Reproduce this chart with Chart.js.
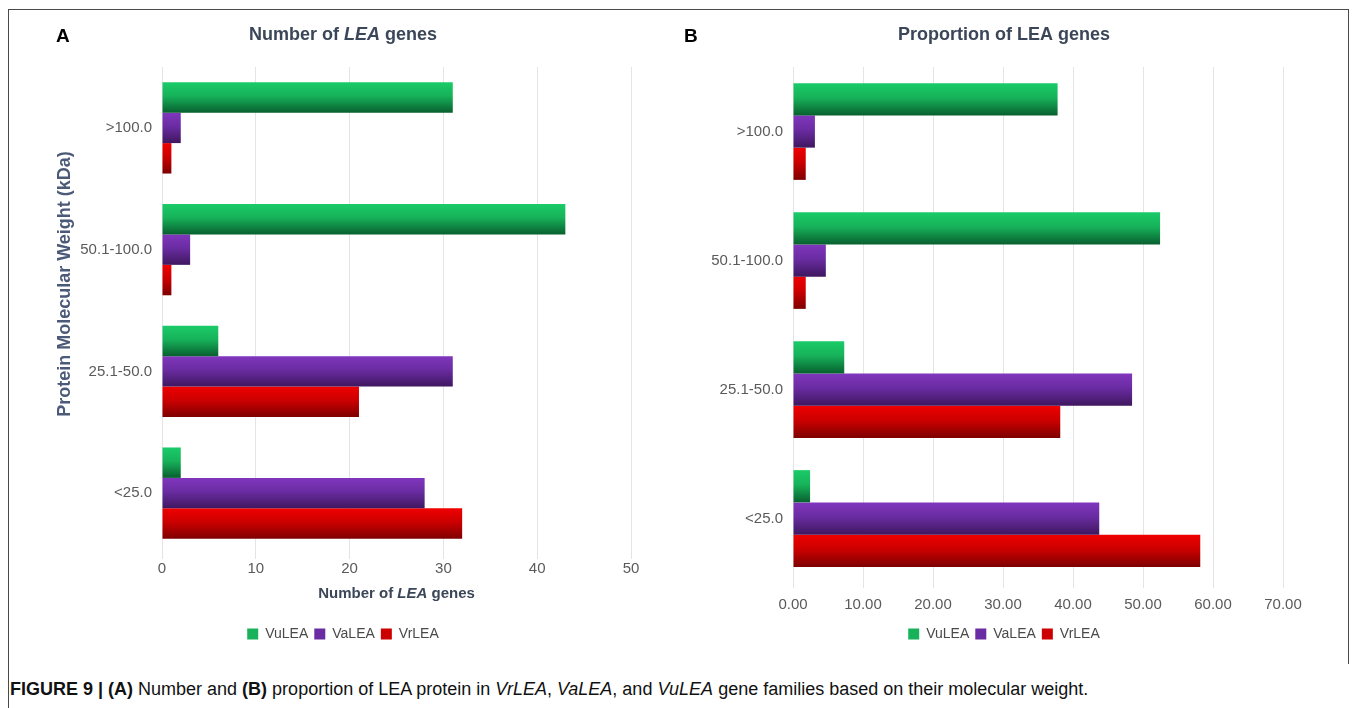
<!DOCTYPE html>
<html>
<head>
<meta charset="utf-8">
<script src="https://cdn.jsdelivr.net/npm/chart.js@4.4.0/dist/chart.umd.min.js"></script>
<style>
  body { margin: 0; background: #fff; font-family: "Liberation Sans", Arial, sans-serif; }
  #frame { position: absolute; left: 8px; top: 9px; width: 1339px; height: 654px; border: 1px solid #4a4a4a; border-bottom: none; }
  #leftline { position: absolute; left: 8px; top: 9px; width: 1px; height: 699px; background: #4a4a4a; }
  .wrap { position: absolute; top: 0; height: 660px; }
  #wrapA { left: 8px; width: 670px; }
  #wrapB { left: 680px; width: 648px; }
  .letter { position: absolute; top: 25px; font-weight: bold; font-size: 19px; color: #000; }
  #caption { position: absolute; left: 10px; top: 679px; font-size: 18px; color: #111; white-space: nowrap; }
</style>
</head>
<body>
<div id="frame"></div>
<div id="leftline"></div>
<div class="wrap" id="wrapA"><canvas id="chartA"></canvas></div>
<div class="wrap" id="wrapB"><canvas id="chartB"></canvas></div>
<div class="letter" style="left:56px">A</div>
<div class="letter" style="left:684px">B</div>
<div id="caption"><b>FIGURE 9 | (A)</b> Number and <b>(B)</b> proportion of LEA protein in <i>VrLEA</i>, <i>VaLEA</i>, and <i>VuLEA</i> gene families based on their molecular weight.</div>
<script>
const categories = ['>100.0', '50.1-100.0', '25.1-50.0', '<25.0'];
const seriesNames = ['VuLEA', 'VaLEA', 'VrLEA'];

// panel A: number of genes
const vuCount = [31, 43, 6, 2];
const vaCount = [2, 3, 31, 28];
const vrCount = [1, 1, 21, 32];

// panel B: proportion (%)
const vuPct = [37.80, 52.44, 7.32, 2.44];
const vaPct = [3.13, 4.69, 48.44, 43.75];
const vrPct = [1.82, 1.82, 38.18, 58.18];

const countMax = 50;
const pctMax = 70;

const FONT = '"Liberation Sans", Arial, sans-serif';
const titleColor = '#3b4658';
const tickColor = '#5a5a5a';
const gridColor = '#e4e4e4';

const palette = [
    { flat: '#17b25a', top: '#1acb68', bottom: '#08602f' },
    { flat: '#6a2ca2', top: '#8036bd', bottom: '#3f175f' },
    { flat: '#cc0000', top: '#ef0000', bottom: '#7e0000' }
];

function drawRich(ctx, parts, cx, cy) {
    let total = 0;
    parts.forEach(p => { ctx.font = p.font; p.w = ctx.measureText(p.text).width; total += p.w; });
    let x = cx - total / 2;
    ctx.textBaseline = 'middle';
    ctx.textAlign = 'left';
    parts.forEach(p => { ctx.font = p.font; ctx.fillText(p.text, x, cy); x += p.w; });
}

const gradientBars = {
    id: 'gradientBars',
    beforeDatasetsDraw(chart) {
        const ctx = chart.ctx;
        chart.data.datasets.forEach((ds, i) => {
            const c = palette[i];
            chart.getDatasetMeta(i).data.forEach(bar => {
                const top = bar.y - bar.height / 2;
                const g = ctx.createLinearGradient(0, top, 0, top + bar.height);
                g.addColorStop(0, c.top);
                g.addColorStop(0.45, c.flat);
                g.addColorStop(1, c.bottom);
                bar.options = Object.assign({}, bar.options, { backgroundColor: g });
            });
        });
    }
};

// titles with italic parts, y title and legend offset
const richText = {
    id: 'richText',
    afterLayout(chart, args, opts) {
        const lg = chart.legend;
        if (lg && opts.legendX !== undefined) {
            const d = opts.legendX - (lg.left + lg.right) / 2;
            lg.left += d;
            lg.right += d;
        }
    },
    afterDraw(chart, args, opts) {
        const ctx = chart.ctx;
        ctx.save();
        ctx.fillStyle = titleColor;
        if (opts.title) drawRich(ctx, opts.title, opts.titleX, opts.titleY);
        if (opts.axis) {
            const a = chart.chartArea;
            drawRich(ctx, opts.axis, (a.left + a.right) / 2, opts.axisY);
        }
        if (opts.yTitle) {
            ctx.save();
            ctx.translate(opts.yTitleX, opts.yTitleY);
            ctx.rotate(-Math.PI / 2);
            ctx.fillStyle = '#4b5a78';
            drawRich(ctx, opts.yTitle, 0, 0);
            ctx.restore();
        }
        ctx.restore();
    }
};

function makeChart(canvas, values, cfg) {
    return new Chart(canvas.getContext('2d'), {
        type: 'bar',
        data: {
            labels: categories,
            datasets: values.map((v, i) => ({
                label: seriesNames[i],
                data: v,
                backgroundColor: palette[i].flat,
                borderWidth: 0,
                categoryPercentage: 0.75,
                barPercentage: 1.0
            }))
        },
        options: {
            indexAxis: 'y',
            responsive: true,
            maintainAspectRatio: false,
            animation: false,
            layout: { padding: cfg.padding },
            scales: {
                x: {
                    min: 0,
                    max: cfg.max,
                    ticks: {
                        stepSize: 10,
                        color: tickColor,
                        font: { family: FONT, size: 15 },
                        padding: cfg.tickPad,
                        callback: cfg.fmt
                    },
                    grid: { color: gridColor, tickLength: 5, tickColor: gridColor },
                    border: { display: false },
                    afterFit: s => { s.height = cfg.xHeight; }
                },
                y: {
                    ticks: { color: tickColor, font: { family: FONT, size: 15 }, padding: 10 },
                    grid: { display: false, drawTicks: false, tickLength: 0 },
                    border: { display: true, color: gridColor },
                    afterFit: s => { s.width = cfg.yWidth; }
                }
            },
            plugins: {
                legend: {
                    position: 'bottom',
                    labels: {
                        boxWidth: 11,
                        boxHeight: 11,
                        padding: 6,
                        color: '#4a4a4a',
                        font: { family: FONT, size: 14 }
                    }
                },
                tooltip: { enabled: false },
                richText: cfg.rich
            }
        },
        plugins: [gradientBars, richText]
    });
}

const bold = 'bold 18px ' + FONT;
const boldIt = 'italic bold 18px ' + FONT;
const axB = 'bold 15px ' + FONT;
const axBI = 'italic bold 15px ' + FONT;

makeChart(document.getElementById('chartA'), [vuCount, vaCount, vrCount], {
    max: countMax,
    padding: { top: 67, left: 47, right: 47, bottom: 9 },
    xHeight: 67,
    yWidth: 107,
    tickPad: 1,
    fmt: v => v,
    rich: {
        title: [{ text: 'Number of ', font: bold }, { text: 'LEA', font: boldIt }, { text: ' genes', font: bold }],
        titleX: 335,
        titleY: 35,
        axis: [{ text: 'Number of ', font: axB }, { text: 'LEA', font: axBI }, { text: ' genes', font: axB }],
        axisY: 594,
        yTitle: [{ text: 'Protein Molecular Weight (kDa)', font: 'bold 18px ' + FONT }],
        yTitleX: 57,
        yTitleY: 284
    }
});

makeChart(document.getElementById('chartB'), [vuPct, vaPct, vrPct], {
    max: pctMax,
    padding: { top: 67, left: 0, right: 45, bottom: 9 },
    xHeight: 38,
    yWidth: 113,
    tickPad: 8,
    fmt: v => Number(v).toFixed(2),
    rich: {
        title: [{ text: 'Proportion of LEA genes', font: bold }],
        titleX: 324,
        titleY: 35,
        legendX: 324
    }
});
</script>
</body>
</html>
